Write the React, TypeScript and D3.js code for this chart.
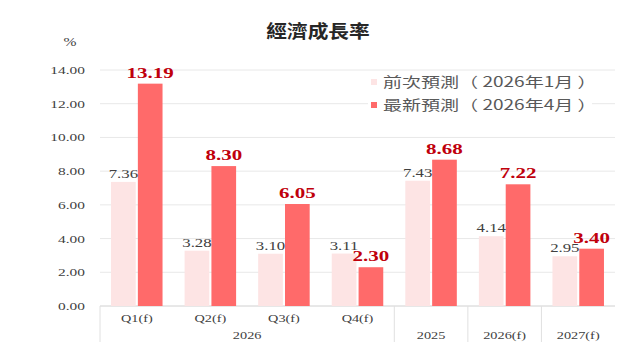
import React from 'react';
import * as d3 from 'd3';

const categories = ['Q1(f)', 'Q2(f)', 'Q3(f)', 'Q4(f)', '2025', '2026(f)', '2027(f)'];
// categories that sit under the shared "2026" group label
const quarterCats = ['Q1(f)', 'Q2(f)', 'Q3(f)', 'Q4(f)'];
const groupLabel = '2026';
const prevValues = [7.36, 3.28, 3.10, 3.11, 7.43, 4.14, 2.95];
const newValues = [13.19, 8.30, 6.05, 2.30, 8.68, 7.22, 3.40];
const yTicks = [0, 2, 4, 6, 8, 10, 12, 14];
const seriesNames = ['前次預測（ 2026年1月 ）', '最新預測（ 2026年4月 ）'];

const W = 640;
const H = 360;
const left = 100;
const right = 615;
const top = 70;
const bottom = 306;

const serif = '"Liberation Serif", "Times New Roman", serif';
const cjk = '"Noto Sans CJK TC", "Noto Sans CJK SC", sans-serif';
const lightColor = '#fde4e4';
const redColor = '#ff6a6a';
const SX = 1.4; // the source picture is stretched sideways

const x0 = d3.scaleBand().domain(categories).range([left, right]).paddingInner(0.3).paddingOuter(0.15);
const x1 = d3.scaleBand().domain(['prev', 'new']).range([0, x0.bandwidth()]).paddingInner(0.08);
const y = d3.scaleLinear().domain([0, 14]).range([bottom, top]);

const SText = ({ x, y, sx = SX, children, ...rest }: any) => (
  <text transform={`translate(${x},${y}) scale(${sx},1)`} {...rest}>{children}</text>
);

export default function App() {
  const step = x0.step();
  const half = (step - x0.bandwidth()) / 2;
  const sepCats = ['Q1(f)', '2025', '2026(f)', '2027(f)'];
  const qStart = x0(quarterCats[0])! - half;
  const qEnd = x0(quarterCats[quarterCats.length - 1])! + x0.bandwidth() + half;

  return (
    <svg width={W} height={H} style={{ position: 'absolute', left: 0, top: 0 }}>
      <rect width={W} height={H} fill="#fff" />
      <SText x={318} y={38} sx={1.15} textAnchor="middle" fontFamily={cjk} fontSize={18} fontWeight={700} fill="#262626">
        經濟成長率
      </SText>
      <SText x={70} y={46} sx={1.2} textAnchor="middle" fontFamily={serif} fontSize={13} fill="#404040">%</SText>

      {yTicks.map((t) => (
        <g key={t}>
          <line x1={left} x2={right} y1={y(t)} y2={y(t)} stroke={t === 0 ? '#d0d0d0' : '#e8e8e8'} strokeWidth={1} />
          <SText x={85} y={y(t) + 4} textAnchor="end" fontFamily={serif} fontSize={11} fill="#404040">
            {t.toFixed(2)}
          </SText>
        </g>
      ))}

      {/* legend */}
      <rect x={368} y={73} width={224} height={42} fill="#fff" />
      {seriesNames.map((name, i) => (
        <g key={name}>
          <rect x={371} y={79 + i * 23} width={6} height={6} fill={i === 0 ? lightColor : redColor} />
          <SText x={383} y={87 + i * 23} sx={1.36} fontFamily={cjk} fontSize={14} fill="#595959">{name}</SText>
        </g>
      ))}

      {categories.map((c, i) => {
        const gx = x0(c)!;
        const px = gx + x1('prev')!;
        const nx = gx + x1('new')!;
        const bw = x1.bandwidth();
        return (
          <g key={c}>
            <rect x={px} y={y(prevValues[i])} width={bw} height={bottom - y(prevValues[i])} fill={lightColor} />
            <rect x={nx} y={y(newValues[i])} width={bw} height={bottom - y(newValues[i])} fill={redColor} />
            <SText x={px + bw / 2} y={y(prevValues[i]) - 4} textAnchor="middle" fontFamily={serif} fontSize={12} fill="#404040">
              {prevValues[i].toFixed(2)}
            </SText>
            <SText x={nx + bw / 2} y={y(newValues[i]) - 6} textAnchor="middle" fontFamily={serif} fontSize={15} fontWeight={700} fill="#c0000c">
              {newValues[i].toFixed(2)}
            </SText>
            <SText
              x={gx + x0.bandwidth() / 2}
              y={quarterCats.includes(c) ? 322 : 339}
              textAnchor="middle"
              fontFamily={serif}
              fontSize={11}
              sx={1.3}
              fill="#404040"
            >
              {c}
            </SText>
          </g>
        );
      })}

      {sepCats.map((c) => (
        <line key={c} x1={x0(c)! - half} x2={x0(c)! - half} y1={bottom} y2={342} stroke="#e0e0e0" />
      ))}
      <SText x={(qStart + qEnd) / 2} y={339} textAnchor="middle" fontFamily={serif} fontSize={11} sx={1.3} fill="#404040">
        {groupLabel}
      </SText>
    </svg>
  );
}
